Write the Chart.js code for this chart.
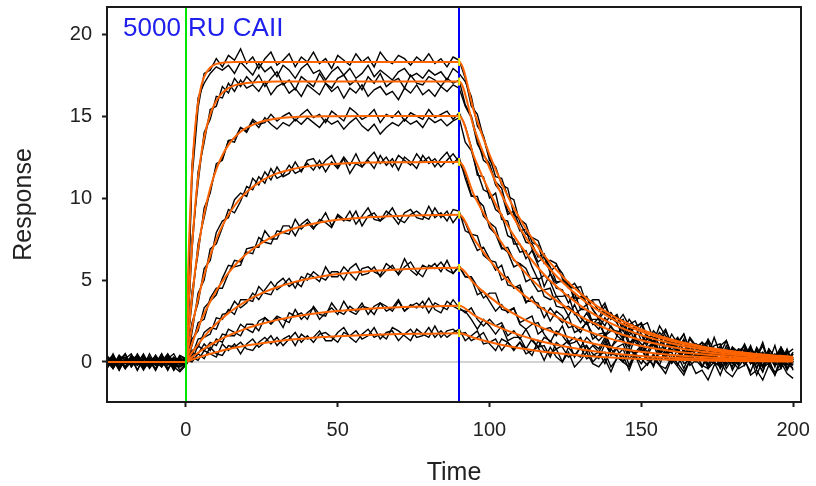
<!DOCTYPE html>
<html>
<head>
<meta charset="utf-8">
<script src="https://cdn.jsdelivr.net/npm/chart.js@4.4.1/dist/chart.umd.min.js"></script>
<style>
  html, body { margin: 0; padding: 0; background: #fff; }
</style>
</head>
<body>
<canvas id="sensorgram" width="816" height="486"></canvas>
<script>
// recorded curves are sampled every 2 s
const rawTime = [-26,-24,-22,-20,-18,-16,-14,-12,-10,-8,-6,-4,-2,0,2,4,6,8,10,12,14,16,18,20,22,24,26,28,30,32,34,36,38,40,42,44,46,48,50,52,54,56,58,60,62,64,66,68,70,72,74,76,78,80,82,84,86,88,90,92,94,96,98,100,102,104,106,108,110,112,114,116,118,120,122,124,126,128,130,132,134,136,138,140,142,144,146,148,150,152,154,156,158,160,162,164,166,168,170,172,174,176,178,180,182,184,186,188,190,192,194,196,198,200];

// two replicate injections per concentration, highest concentration first
const rawTraces = [
  [0.2,-0.3,0.4,0.1,-0.2,0.5,-0.1,0.0,-0.4,0.3,0.1,-0.2,0.4,
   0.1,11.2,15.5,17.6,17.8,18.5,18.0,18.7,18.4,19.1,18.2,18.6,17.9,18.5,18.9,18.1,18.4,18.8,18.0,18.6,18.3,18.9,18.2,18.5,17.9,18.7,18.4,18.1,18.8,18.3,18.6,18.0,18.9,18.4,18.2,18.7,18.5,18.1,18.6,18.3,18.8,18.2,18.5,18.0,18.6,18.4,
   17.3,15.6,15.1,13.7,12.3,11.9,10.8,10.6,9.0,8.7,8.4,7.3,7.1,6.0,6.2,6.0,5.1,4.5,4.8,4.2,3.5,3.8,3.8,2.9,3.0,2.4,2.9,2.2,1.6,2.2,2.4,1.4,1.6,0.9,1.7,1.1,1.7,0.7,1.1,0.9,1.3,0.1,1.0,1.3,0.4,0.6,0.1,0.8,0.3,1.2,0.0,0.5,-0.2,0.5,0.8],
  [-0.3,0.1,-0.5,0.2,0.0,-0.2,0.3,-0.4,0.1,-0.1,0.4,-0.3,-0.6,
   -0.2,12.0,16.1,17.0,17.6,18.0,17.8,18.1,17.6,18.3,17.9,17.5,18.2,17.7,18.0,17.4,18.1,17.8,17.3,17.9,18.2,17.6,17.8,17.2,17.7,18.0,17.5,17.9,17.3,17.6,18.1,17.4,17.8,17.5,17.2,17.7,17.9,17.4,17.6,17.3,17.8,17.5,17.7,17.2,17.9,17.6,
   17.1,16.2,14.4,13.8,12.5,11.3,11.2,10.1,9.9,8.5,7.8,7.6,7.4,6.4,5.5,5.9,5.4,4.6,4.5,4.6,3.5,3.7,3.1,3.6,2.6,2.9,1.9,2.6,2.1,2.4,1.6,1.2,2.2,1.6,1.1,1.5,0.6,1.5,1.0,0.6,1.4,0.7,0.5,1.3,0.2,0.8,0.7,-0.1,0.9,0.3,0.7,-0.3,0.9,0.3,0.0],
  [0.4,-0.1,0.2,-0.4,0.3,0.0,-0.3,0.5,-0.2,0.1,-0.5,0.2,0.0,
   0.2,6.8,11.6,13.4,15.4,15.6,16.8,16.4,17.3,16.8,17.4,17.0,17.5,16.8,17.3,17.7,16.9,17.2,16.6,17.4,17.1,16.8,17.6,17.0,16.7,17.3,17.5,16.9,17.2,16.6,17.4,17.0,17.6,16.8,17.1,17.3,16.7,17.5,17.0,16.9,17.4,17.2,16.8,17.3,17.0,17.2,
   15.7,15.0,13.6,12.3,12.0,11.0,10.6,9.2,8.9,8.0,8.1,6.9,6.1,6.4,5.8,4.9,4.9,4.9,3.7,4.0,3.9,3.2,2.7,3.4,2.7,2.4,2.6,1.6,2.2,2.3,1.4,1.7,1.0,1.9,1.1,1.2,1.7,0.6,0.9,1.2,0.2,1.0,1.1,0.2,0.7,0.3,1.1,0.3,0.5,-0.3,0.8,0.3,0.6,-0.2,0.5],
  [-0.2,0.3,-0.1,0.5,-0.3,0.2,-0.5,0.1,0.3,-0.2,0.0,-0.4,0.3,
   -0.1,7.5,10.9,14.0,14.8,16.2,16.1,17.0,16.5,17.2,16.7,16.9,16.5,17.1,16.3,16.8,17.0,16.4,16.7,16.2,16.9,16.6,16.3,17.0,16.5,16.8,16.1,16.7,16.4,16.9,16.2,16.6,16.8,16.3,16.5,16.0,16.7,16.4,16.9,16.3,16.6,16.2,16.8,16.5,16.9,16.7,
   15.6,14.9,13.3,12.6,12.1,10.8,10.3,9.0,9.2,8.2,7.3,7.2,6.4,6.6,5.4,4.8,5.0,4.8,3.9,3.9,4.0,3.2,2.6,3.1,2.6,2.8,1.9,2.3,2.5,1.7,1.1,1.9,1.5,2.0,1.0,1.4,0.6,1.4,0.9,1.0,0.4,1.5,0.5,0.1,0.9,0.6,1.0,0.2,0.7,-0.3,0.8,0.3,0.9,0.1,-0.2],
  [0.1,0.4,-0.2,0.0,0.3,-0.5,0.2,-0.1,0.4,-0.3,0.2,0.5,-0.2,
   0.3,3.6,7.2,8.8,10.5,11.9,12.4,13.5,13.6,14.3,14.1,14.8,14.5,14.6,15.1,14.7,15.0,15.2,14.7,15.1,15.4,14.9,15.1,14.6,15.3,15.0,14.7,15.5,15.2,14.8,15.0,15.4,14.6,15.1,14.9,15.3,14.7,15.2,15.0,14.8,15.4,14.9,15.1,15.3,14.8,15.2,
   14.4,13.1,11.4,11.3,10.0,10.3,8.7,8.6,7.2,7.2,6.3,6.8,5.9,4.6,5.4,4.5,4.4,3.6,4.2,3.2,3.5,2.3,2.7,2.2,3.0,2.4,1.5,1.8,2.2,1.3,1.6,1.2,1.8,1.4,0.7,1.1,1.3,0.6,0.7,1.2,0.9,0.2,0.7,0.4,0.8,0.5,0.1,0.9,0.3,0.6,0.0,0.4,0.7,0.1,0.6],
  [-0.4,0.2,0.0,-0.3,0.4,0.1,-0.2,0.3,-0.5,0.2,-0.1,0.3,0.0,
   -0.2,4.3,6.6,9.4,10.3,12.1,12.3,13.5,13.4,14.3,14.0,14.7,14.3,14.9,14.5,14.2,14.6,14.4,14.8,14.5,14.9,14.6,14.3,14.8,14.5,14.7,14.2,14.6,14.9,14.4,14.1,14.5,13.9,14.3,14.6,14.4,14.8,14.5,14.7,14.3,14.9,14.6,14.8,14.4,14.7,14.9,
   13.4,12.9,11.6,10.5,10.3,9.3,9.0,7.7,7.5,6.7,6.8,5.8,5.0,5.3,4.9,4.0,4.0,4.1,2.9,3.2,3.2,2.4,2.0,2.7,2.1,1.8,2.0,1.0,1.7,1.7,0.9,1.2,0.5,1.4,0.6,0.8,1.3,0.2,0.4,0.8,-0.2,0.6,0.7,-0.2,0.3,-0.1,0.8,-0.1,0.1,-0.6,0.4,-0.1,0.3,-0.5,0.2],
  [0.3,-0.2,0.1,0.5,-0.3,0.2,-0.4,0.0,0.3,-0.1,0.4,-0.3,0.1,
   0.1,2.4,3.6,5.7,6.2,7.9,8.6,8.8,9.9,10.3,10.1,11.2,10.8,11.6,11.1,11.9,11.3,11.5,12.2,11.6,12.3,12.4,11.8,12.3,12.6,11.9,12.5,12.0,12.7,11.9,12.4,12.8,12.1,12.5,11.9,12.6,12.3,12.0,12.7,12.2,12.5,11.9,12.4,12.8,12.1,12.5,
   11.2,10.1,10.1,8.9,8.5,8.2,7.0,6.7,5.8,6.0,5.7,4.9,4.3,4.4,4.5,3.4,3.3,3.4,3.0,2.4,3.0,2.3,2.4,1.6,2.2,1.6,2.3,1.2,1.4,0.9,1.4,1.7,0.5,0.9,1.2,0.7,1.4,0.3,0.7,1.0,0.1,0.7,0.8,-0.1,0.9,0.2,0.3,1.0,-0.1,0.5,0.0,1.0,-0.3,0.2,0.5],
  [-0.1,0.4,-0.3,0.0,0.2,-0.5,0.3,0.1,-0.2,0.5,-0.4,0.0,0.2,
   -0.3,1.8,4.2,5.0,6.9,7.2,8.2,9.3,9.1,9.8,10.7,10.5,11.3,10.9,11.8,11.2,11.4,12.0,11.5,11.7,12.1,11.7,12.3,11.6,12.2,11.8,12.4,11.5,12.1,11.9,12.3,11.8,12.6,12.0,12.4,11.7,12.5,12.2,11.8,12.6,12.1,12.4,11.9,12.3,12.7,12.2,
   11.5,10.2,9.9,9.5,8.2,7.8,6.9,7.0,6.2,6.0,4.9,5.1,5.1,4.0,3.8,4.0,3.5,2.8,3.5,2.7,2.3,2.6,2.6,1.6,1.9,1.9,1.4,2.1,1.2,0.9,1.5,1.1,1.6,0.5,1.1,0.9,0.2,1.1,0.8,0.3,1.2,0.4,0.1,1.0,0.3,0.7,-0.2,0.6,0.3,1.0,-0.1,0.4,-0.1,0.7,0.0],
  [0.2,-0.4,0.3,-0.1,0.1,0.4,-0.3,0.2,-0.2,0.0,0.5,-0.1,-0.3,
   0.1,1.4,1.9,3.3,3.7,4.1,5.1,5.9,5.8,5.9,6.9,7.0,7.0,8.0,7.5,7.5,8.3,8.3,7.7,8.4,8.7,8.2,8.5,9.1,8.3,8.9,8.6,9.2,8.4,8.9,9.4,8.7,8.6,9.2,8.9,8.4,9.1,9.3,8.8,8.7,9.5,8.8,9.1,8.6,9.3,9.2,
   8.0,7.8,7.7,6.5,6.2,6.1,5.0,5.2,4.5,4.7,3.7,3.7,3.6,2.7,3.3,2.8,2.4,2.8,1.8,2.0,2.4,1.7,1.3,1.7,0.8,1.6,1.3,0.9,1.6,0.6,0.9,1.1,0.7,0.2,1.1,0.8,0.3,1.1,0.3,0.5,-0.2,0.7,0.9,0.3,-0.1,0.5,1.0,0.0,0.2,-0.3,0.6,0.0,0.8,0.1,-0.2],
  [0.0,0.3,-0.4,0.2,0.5,-0.2,0.1,-0.3,0.4,-0.1,0.2,-0.5,0.1,
   -0.2,1.0,2.4,2.6,3.9,4.5,4.5,5.4,6.2,6.1,6.7,6.6,7.6,7.3,7.2,8.0,7.9,7.8,8.7,8.1,8.5,8.1,8.7,8.5,8.2,9.0,8.7,8.6,9.2,8.3,8.9,9.1,8.6,8.9,9.4,8.7,8.5,9.0,9.2,8.9,8.7,9.4,8.8,9.2,8.5,9.0,
   8.5,7.6,6.8,7.0,6.3,5.6,5.9,4.7,4.6,4.5,3.6,4.0,3.3,3.3,2.5,3.1,2.8,2.1,2.2,1.8,2.5,1.4,1.7,1.8,0.9,1.3,1.4,0.5,1.5,1.1,0.6,1.3,0.6,0.3,1.0,0.6,0.1,0.7,1.1,0.4,0.1,0.5,-0.2,0.8,0.5,0.1,0.3,0.8,-0.4,0.5,0.3,-0.2,0.0,0.8,-0.1],
  [0.3,-0.1,0.2,-0.4,0.0,0.4,-0.2,0.1,-0.5,0.3,0.0,-0.2,0.4,
   0.2,0.4,1.4,1.5,1.7,2.7,2.6,3.2,2.9,3.8,3.8,3.7,4.6,4.2,4.1,4.8,5.1,4.6,4.9,4.6,5.4,5.2,4.9,5.8,5.2,5.2,5.8,5.4,5.0,5.7,5.8,5.5,5.3,6.0,5.7,5.4,6.3,5.6,5.3,5.9,5.7,6.0,5.5,6.2,5.4,5.8,
   5.2,5.2,4.6,3.9,4.2,4.2,3.2,3.1,3.3,2.4,2.6,2.8,1.7,2.0,2.1,1.6,2.2,1.2,1.5,0.9,1.5,1.1,0.8,1.5,0.5,0.9,1.1,0.2,0.6,1.0,0.4,1.1,0.1,0.5,0.6,-0.2,0.7,0.4,0.0,0.8,0.2,-0.1,0.8,0.2,-0.3,0.5,0.0,0.3,-0.4,0.5,0.3,-0.2,0.6,-0.4,0.2],
  [-0.2,0.5,-0.3,0.1,-0.1,0.3,-0.4,0.2,0.0,-0.3,0.4,0.1,-0.5,
   -0.1,0.7,0.9,1.8,2.1,2.0,2.9,3.0,3.7,3.3,3.6,4.2,3.8,4.4,4.9,4.4,4.7,5.1,4.5,5.2,5.0,5.5,5.2,5.0,5.5,5.5,5.0,5.7,6.0,5.3,5.4,5.8,5.2,5.6,5.9,5.3,5.8,6.1,5.5,5.2,5.9,5.7,6.1,5.6,5.4,5.9,
   5.2,5.1,4.1,4.3,3.7,3.1,3.5,3.0,3.3,2.3,2.0,2.3,2.4,1.7,1.2,1.9,1.6,1.1,1.2,1.5,0.6,1.0,0.6,1.3,0.4,0.8,0.0,0.8,0.5,0.8,0.2,-0.2,0.9,0.4,-0.1,0.4,-0.4,0.5,0.1,-0.3,0.6,0.0,-0.3,0.6,-0.5,0.2,0.1,-0.6,0.4,-0.3,0.2,-0.8,0.4,-0.1,-0.4],
  [0.1,0.3,-0.5,0.2,-0.2,0.0,0.4,-0.3,0.2,-0.1,0.3,-0.4,0.2,
   0.1,0.1,1.0,0.7,1.2,1.0,1.7,1.6,1.6,2.3,2.0,1.8,2.5,2.7,2.3,2.7,2.1,3.0,2.8,3.0,2.6,3.4,2.9,2.8,3.6,3.1,2.9,3.4,3.1,3.6,2.9,3.4,3.6,3.1,3.3,3.8,3.1,3.5,3.3,3.7,3.0,3.6,3.4,3.2,3.8,3.3,
   3.0,3.3,2.6,2.2,2.6,2.2,2.4,1.6,1.9,1.4,2.0,1.3,0.9,1.5,1.3,0.8,1.0,1.3,0.3,0.9,1.0,0.5,0.2,1.1,0.5,0.4,0.8,-0.2,0.6,0.8,0.1,0.4,-0.2,0.8,0.1,0.2,0.8,-0.2,0.1,0.5,-0.4,0.4,0.5,-0.4,0.2,-0.2,0.7,-0.1,0.1,-0.6,0.5,0.0,0.4,-0.4,0.3],
  [-0.3,0.2,0.1,-0.4,0.3,-0.1,0.5,-0.2,0.0,0.3,-0.5,0.2,-0.1,
   -0.2,0.5,0.5,1.1,0.7,1.4,1.2,2.0,1.8,1.6,2.3,2.3,1.9,2.7,2.4,2.8,2.6,2.4,3.2,2.6,3.0,3.3,2.6,3.0,3.3,2.9,3.7,3.1,2.9,3.4,3.3,2.9,3.6,3.4,3.1,3.7,3.1,3.4,3.6,3.3,3.9,3.2,3.0,3.7,3.4,3.2,
   3.1,2.6,2.0,2.6,2.2,1.7,2.2,1.3,1.5,1.5,0.8,1.4,0.9,1.0,0.3,1.2,0.9,0.3,0.5,0.3,1.0,0.0,0.4,0.6,-0.3,0.2,0.4,-0.5,0.5,0.2,-0.2,0.5,-0.2,-0.4,0.3,-0.1,-0.6,0.1,0.5,-0.2,-0.4,0.0,-0.8,0.2,0.0,-0.4,-0.2,0.3,-0.8,0.1,-0.1,-0.6,-0.4,0.4,-0.5],
  [0.2,-0.2,0.4,-0.3,0.1,0.0,-0.4,0.3,-0.1,0.5,-0.2,0.1,-0.3,
   -0.1,0.3,0.1,0.7,0.5,0.3,1.1,0.7,1.1,0.5,1.1,1.4,0.9,1.2,1.6,1.0,1.4,1.6,1.0,1.7,1.4,1.5,1.9,1.3,1.3,1.8,2.1,1.5,1.2,1.7,2.0,1.5,1.7,1.4,2.1,1.9,1.6,1.3,2.0,1.7,1.5,2.2,1.5,1.9,2.0,1.7,
   1.8,1.3,1.5,1.8,1.1,0.7,1.4,1.2,0.7,1.2,0.8,0.4,1.3,0.7,0.5,0.8,0.0,0.9,0.4,0.9,0.2,0.4,0.6,-0.1,0.8,0.3,0.0,0.8,0.4,-0.1,0.5,-0.3,0.7,0.2,0.0,0.8,-0.1,0.1,0.5,-0.3,0.3,0.6,-0.4,0.2,0.7,-0.1,0.4,0.1,0.8,-0.3,-0.1,0.4,-0.4,0.6,0.0],
  [0.0,-0.4,0.2,0.3,-0.2,0.4,-0.1,-0.3,0.2,0.0,0.3,-0.5,0.1,
   0.1,0.0,0.5,0.2,0.9,0.5,0.4,1.0,0.9,1.2,0.8,0.7,1.2,1.5,1.1,1.5,1.0,1.4,1.8,1.2,1.6,1.2,1.7,1.8,1.5,1.2,1.8,1.6,1.9,1.4,1.6,2.1,1.4,1.8,1.9,1.3,1.7,2.0,1.5,1.6,2.1,1.5,1.9,1.5,1.8,2.0,
   1.3,1.6,1.9,1.1,1.2,1.4,0.7,1.2,0.8,1.2,0.5,0.7,0.9,0.1,0.9,0.3,0.0,0.6,-0.3,0.1,0.6,-0.1,-0.3,0.2,-0.6,0.3,0.0,-0.3,0.4,-0.5,-0.1,0.2,-0.2,-0.7,0.2,-0.3,-0.8,0.1,-0.7,-0.5,-1.1,-0.2,0.0,-0.6,-0.9,-0.3,0.2,-0.8,-0.5,-1.1,-0.2,-0.8,0.0,-0.7,-1.0]
];

// fitted curves, one per concentration
const fitTime = [0,0.5,1,1.5,2,3,4,5,6,8,10,12,14,16,18,20,25,30,35,40,45,50,60,70,80,90,95,100,105,110,115,120,130,140,150,160,170,180,190,200];
const fitCurves = [
  [0,4.05,7.20,9.66,11.57,14.22,15.83,16.80,17.39,17.96,18.18,18.25,18.28,18.3,18.3,18.3,18.3,18.3,18.3,18.3,18.3,18.3,18.3,18.3,18.3,18.3,15.21,12.65,10.50,8.73,7.27,6.04,4.17,2.87,1.99,1.37,0.95,0.66,0.46,0.31],
  [0,2.14,4.02,5.66,7.10,9.44,11.25,12.62,13.68,15.10,15.93,16.41,16.70,16.87,16.96,17.02,17.08,17.10,17.1,17.1,17.1,17.1,17.1,17.1,17.1,17.1,14.21,11.82,9.82,8.16,6.79,5.64,3.90,2.68,1.86,1.28,0.89,0.62,0.43,0.29],
  [0,1.10,2.13,3.08,3.96,5.52,6.87,8.03,9.02,10.59,11.75,12.61,13.24,13.70,14.04,14.30,14.67,14.85,14.93,14.97,14.98,14.99,15.0,15.0,15.0,15.0,12.47,10.37,8.61,7.16,5.96,4.95,3.42,2.36,1.64,1.13,0.78,0.54,0.38,0.26],
  [0,0.57,1.11,1.62,2.11,3.03,3.86,4.61,5.29,6.49,7.48,8.30,8.98,9.53,9.99,10.37,11.06,11.50,11.76,11.93,12.03,12.09,12.16,12.18,12.19,12.2,10.14,8.43,7.00,5.82,4.84,4.03,2.78,1.92,1.33,0.92,0.63,0.44,0.31,0.21],
  [0,0.29,0.58,0.85,1.12,1.62,2.09,2.53,2.94,3.69,4.35,4.92,5.43,5.87,6.26,6.60,7.27,7.76,8.11,8.36,8.54,8.67,8.83,8.91,8.95,8.98,7.46,6.21,5.15,4.28,3.57,2.96,2.05,1.41,0.98,0.67,0.47,0.32,0.22,0.15],
  [0,0.15,0.29,0.43,0.57,0.83,1.08,1.32,1.54,1.96,2.33,2.67,2.98,3.25,3.50,3.73,4.20,4.56,4.84,5.06,5.23,5.36,5.54,5.64,5.71,5.74,4.77,3.97,3.29,2.74,2.28,1.89,1.31,0.90,0.63,0.43,0.30,0.21,0.14,0.10],
  [0,0.08,0.15,0.22,0.29,0.43,0.56,0.69,0.81,1.04,1.25,1.44,1.61,1.77,1.91,2.05,2.33,2.57,2.75,2.90,3.02,3.11,3.25,3.34,3.39,3.43,2.85,2.37,1.97,1.64,1.36,1.13,0.78,0.54,0.37,0.26,0.18,0.12,0.09,0.06],
  [0,0.04,0.07,0.11,0.14,0.21,0.27,0.33,0.39,0.50,0.60,0.70,0.79,0.87,0.94,1.01,1.15,1.27,1.37,1.45,1.52,1.57,1.65,1.70,1.73,1.76,1.46,1.22,1.01,0.84,0.70,0.58,0.40,0.28,0.19,0.13,0.09,0.06,0.04,0.03]
];
// baseline part of the fit before injection
const baseTime = [-26, 0];
const baseFit = [0, 0];

const xTicks = [0, 50, 100, 150, 200];
const yTicks = [0, 5, 10, 15, 20];
const injectStart = 0;
const injectEnd = 90;
const sampleLabel = '5000 RU CAII';

const FONT = "'Liberation Sans', Arial, sans-serif";

rawTraces.forEach((t, i) => {
    if (t.length !== rawTime.length) console.error('trace ' + i + ' has ' + t.length + ' points');
});

function pts(xs, ys) {
    return xs.map((x, i) => ({x: x, y: ys[i]}));
}

// keep the plot box where the reference has it
function fixBox(w, h) {
    return s => {
        if (w) s.width = w;
        if (h) s.height = h;
        s.paddingTop = 0;
        s.paddingBottom = 0;
        s.paddingLeft = 0;
        s.paddingRight = 0;
    };
}

let datasets = [];
// yellow ticks where each fit leaves the injection phase
const endIdx = fitTime.indexOf(injectEnd);
datasets.push({
    data: fitCurves.map(c => ({x: injectEnd, y: c[endIdx]})),
    showLine: false,
    pointStyle: 'line',
    pointRotation: 90,
    pointRadius: 4,
    pointBorderWidth: 2,
    pointBorderColor: '#f4f400',
    order: 0
});
for (let c of fitCurves) {
    datasets.push({
        data: pts(fitTime, c),
        borderColor: '#ff6400',
        borderWidth: 2,
        pointRadius: 0,
        cubicInterpolationMode: 'monotone',
        order: 1
    });
}
datasets.push({
    data: pts(baseTime, baseFit),
    borderColor: '#ff6400',
    borderWidth: 2,
    pointRadius: 0,
    order: 1
});
for (let t of rawTraces) {
    datasets.push({
        data: pts(rawTime, t),
        borderColor: '#000000',
        borderWidth: 1.4,
        pointRadius: 0,
        tension: 0,
        order: 2
    });
}

const decor = {
    id: 'decor',
    beforeDatasetsDraw(chart) {
        const {ctx, scales: {x, y}} = chart;
        ctx.save();
        ctx.strokeStyle = '#c4c4c4';
        ctx.lineWidth = 1.5;
        ctx.beginPath();
        ctx.moveTo(x.getPixelForValue(injectStart), y.getPixelForValue(0));
        ctx.lineTo(x.getPixelForValue(rawTime[rawTime.length - 1]), y.getPixelForValue(0));
        ctx.stroke();
        ctx.restore();
    },
    afterDatasetDraw(chart, args) {
        // index 1 is drawn just before the yellow markers
        if (args.index !== 1) return;
        const {ctx, chartArea: a, scales: {x}} = chart;
        ctx.save();
        ctx.lineWidth = 2;
        [[injectStart, '#00e600'], [injectEnd, '#0000ff']].forEach(([t, col]) => {
            const px = Math.round(x.getPixelForValue(t));
            ctx.strokeStyle = col;
            ctx.beginPath();
            ctx.moveTo(px, a.top);
            ctx.lineTo(px, a.bottom);
            ctx.stroke();
        });
        ctx.restore();
    },
    afterDraw(chart) {
        const {ctx, chartArea: a} = chart;
        ctx.save();
        ctx.strokeStyle = '#1a1a1a';
        ctx.lineWidth = 2;
        ctx.strokeRect(a.left, a.top, a.right - a.left, a.bottom - a.top);
        ctx.fillStyle = '#2020ee';
        ctx.font = '26px ' + FONT;
        ctx.textBaseline = 'alphabetic';
        ctx.fillText(sampleLabel, a.left + 16, a.top + 29);
        ctx.restore();
    }
};

const ctx = document.getElementById('sensorgram').getContext('2d');
const chart = new Chart(ctx, {
    type: 'line',
    data: { datasets: datasets },
    options: {
        responsive: false,
        animation: false,
        events: [],
        parsing: false,
        normalized: true,
        layout: { padding: { top: 7, right: 15, left: 0, bottom: 0 } },
        plugins: {
            legend: { display: false },
            tooltip: { enabled: false }
        },
        scales: {
            x: {
                type: 'linear',
                min: -26,
                max: 202.6,
                afterBuildTicks: s => { s.ticks = xTicks.map(v => ({value: v})); },
                afterFit: fixBox(0, 84),
                grid: { display: true, drawOnChartArea: false, drawTicks: true, tickLength: 5, tickColor: '#1a1a1a', tickWidth: 2 },
                border: { display: false },
                ticks: { color: '#222', font: { family: FONT, size: 20 }, padding: 11, maxRotation: 0 },
                title: { display: true, text: 'Time', color: '#222', font: { family: FONT, size: 25, lineHeight: 1.0 }, padding: { top: 0, bottom: 0 } }
            },
            y: {
                type: 'linear',
                min: -2.44,
                max: 21.65,
                afterBuildTicks: s => { s.ticks = yTicks.map(v => ({value: v})); },
                afterFit: fixBox(107, 0),
                grid: { display: true, drawOnChartArea: false, drawTicks: true, tickLength: 5, tickColor: '#1a1a1a', tickWidth: 2 },
                border: { display: false },
                ticks: { color: '#222', font: { family: FONT, size: 20 }, padding: 10 },
                title: { display: true, text: 'Response', color: '#222', font: { family: FONT, size: 25, lineHeight: 1.0 }, padding: { top: 12, bottom: 0 } }
            }
        }
    },
    plugins: [decor]
});
</script>
</body>
</html>
